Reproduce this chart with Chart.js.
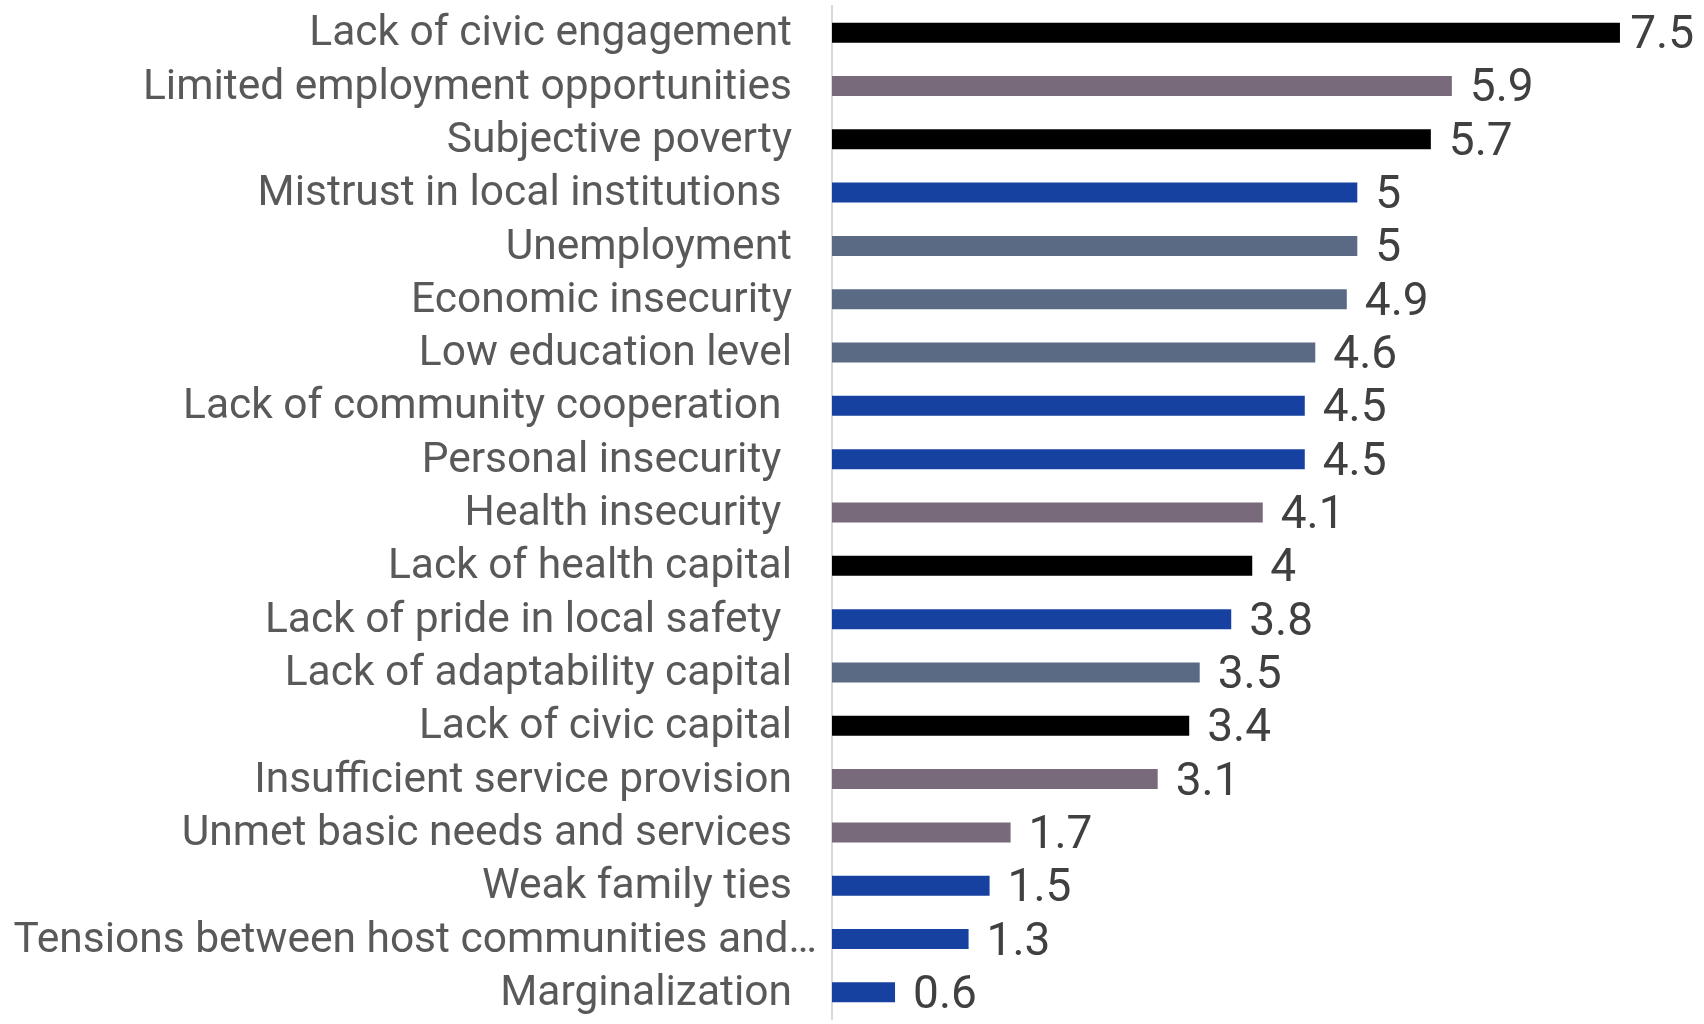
<!DOCTYPE html>
<html>
<head>
<meta charset="utf-8">
<script src="https://cdn.jsdelivr.net/npm/chart.js@4.4.1/dist/chart.umd.min.js"></script>
<style>
  html, body { margin: 0; padding: 0; background: #fff; }
  #wrap { width: 1704px; height: 1024px; }
</style>
</head>
<body>
<div id="wrap"><canvas id="myChart"></canvas></div>
<script>
  const categories = [
    'Lack of civic engagement',
    'Limited employment opportunities',
    'Subjective poverty',
    'Mistrust in local institutions ',
    'Unemployment',
    'Economic insecurity',
    'Low education level',
    'Lack of community cooperation ',
    'Personal insecurity ',
    'Health insecurity ',
    'Lack of health capital',
    'Lack of pride in local safety ',
    'Lack of adaptability capital',
    'Lack of civic capital',
    'Insufficient service provision',
    'Unmet basic needs and services',
    'Weak family ties',
    'Tensions between host communities and\u2026',
    'Marginalization'
  ];
  const values = [7.5, 5.9, 5.7, 5, 5, 4.9, 4.6, 4.5, 4.5, 4.1, 4, 3.8, 3.5, 3.4, 3.1, 1.7, 1.5, 1.3, 0.6];

  const BLACK = '#000000', MAUVE = '#786a7a', SLATE = '#5a6a85', BLUE = '#1741a0';
  const barColors = [BLACK, MAUVE, BLACK, BLUE, SLATE, SLATE, SLATE, BLUE, BLUE, MAUVE,
                     BLACK, BLUE, SLATE, BLACK, MAUVE, MAUVE, BLUE, BLUE, BLUE];

  // category names on the left + value text to the right of each bar
  const barText = {
    id: 'barText',
    afterDatasetsDraw(chart) {
      const c = chart.ctx;
      const yScale = chart.scales.y;
      const meta = chart.getDatasetMeta(0);
      c.save();
      c.textBaseline = 'middle';

      c.font = '42.5px Roboto';
      c.fillStyle = '#595959';
      c.textAlign = 'right';
      categories.forEach((name, i) => {
        const y = yScale.getPixelForTick(i);
        let x = yScale.right - 40;
        // long names that got cut short sit closer to the axis
        if (c.measureText(name).width > x - 10) x = yScale.right - 15;
        c.fillText(name, x, y + 2);
      });

      c.font = '46px Roboto';
      c.fillStyle = '#404040';
      c.textAlign = 'left';
      meta.data.forEach((bar, i) => {
        const txt = String(values[i]);
        const w = c.measureText(txt).width;
        const x = Math.min(bar.x + 18, chart.width - w - 10);
        c.fillText(txt, x, bar.y + 4);
      });
      c.restore();
    }
  };

  const ctx = document.getElementById('myChart');

  new Chart(ctx, {
    type: 'bar',
    data: {
      labels: categories,
      datasets: [{
        data: values,
        backgroundColor: barColors,
        borderWidth: 0,
        categoryPercentage: 1,
        barPercentage: 0.375
      }]
    },
    plugins: [barText],
    options: {
      indexAxis: 'y',
      responsive: true,
      maintainAspectRatio: false,
      animation: false,
      layout: { padding: { top: 6, bottom: 5, left: 0, right: 0 } },
      plugins: {
        legend: { display: false },
        tooltip: { enabled: false }
      },
      scales: {
        x: {
          display: false,
          min: 0,
          max: 8.3
        },
        y: {
          afterFit(scale) {
            scale.width = 832;
            scale.paddingTop = 0;
            scale.paddingBottom = 0;
          },
          grid: { display: false, drawTicks: false },
          border: { display: true, color: '#d9d9d9', width: 2 },
          ticks: { display: false, autoSkip: false }
        }
      }
    }
  });
</script>
</body>
</html>
